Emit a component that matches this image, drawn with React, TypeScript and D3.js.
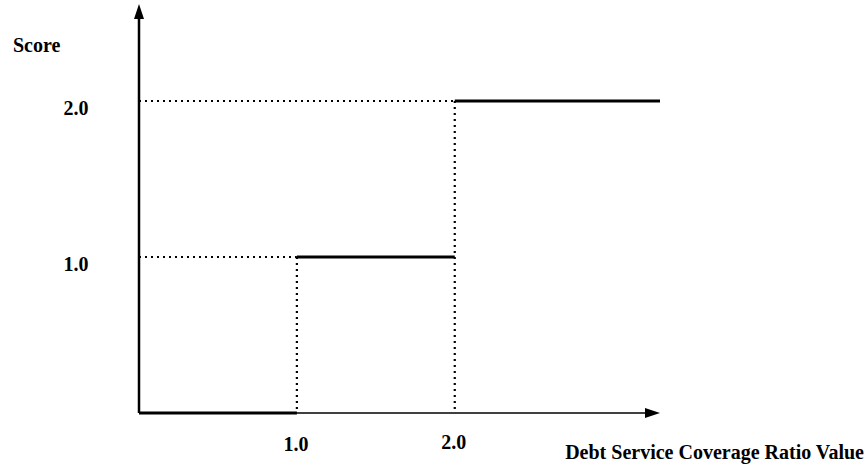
import React from 'react';
import * as d3 from 'd3';

// step function: score by debt service coverage ratio
const breaks = [0, 1.0, 2.0, 3.3];
const scores = [0, 1.0, 2.0];
const xTicks = ['1.0', '2.0'];
const yTicks = ['1.0', '2.0'];
const xTitle = 'Debt Service Coverage Ratio Value';
const yTitle = 'Score';

const width = 866;
const height = 466;
const origin = { x: 139, y: 413 };

const App = () => {
  const x = d3.scaleLinear().domain([0, 3.3]).range([origin.x, 660]);
  const y = d3.scaleLinear().domain([0, 2]).range([origin.y, 101]);
  const font = '"Liberation Serif", "Times New Roman", serif';

  const steps = scores.map((s, i) => ({ x0: breaks[i], x1: breaks[i + 1], s }));

  return (
    <svg width={width} height={height} style={{ position: 'absolute', left: 0, top: 0, background: '#fff' }}>
      {/* axes */}
      <line x1={origin.x} y1={origin.y} x2={origin.x} y2={16} stroke="#000" strokeWidth={2.5} />
      <path d={`M${origin.x},4 L${origin.x - 5},19 L${origin.x + 5},19 Z`} fill="#000" />
      <line x1={origin.x} y1={origin.y} x2={648} y2={origin.y} stroke="#000" strokeWidth={1.5} />
      <path d={`M${x(3.3)},${origin.y} L${x(3.3) - 15},${origin.y - 5} L${x(3.3) - 15},${origin.y + 5} Z`} fill="#000" />

      {/* dotted guides */}
      {scores.slice(1).map((s, i) => (
        <g key={i}>
          <line x1={origin.x} y1={y(s)} x2={x(breaks[i + 1])} y2={y(s)}
            stroke="#000" strokeWidth={2} strokeDasharray="2,4" />
          <line x1={x(breaks[i + 1])} y1={y(s)} x2={x(breaks[i + 1])} y2={origin.y}
            stroke="#000" strokeWidth={2.2} strokeDasharray="2,4" />
        </g>
      ))}

      {/* steps */}
      {steps.map((d, i) => (
        <line key={i} x1={x(d.x0)} y1={y(d.s)} x2={x(d.x1)} y2={y(d.s)}
          stroke="#000" strokeWidth={3.2} />
      ))}

      {/* labels */}
      <g fontFamily={font} fontWeight="bold" fontSize={20} fill="#000">
        <text x={13} y={52}>{yTitle}</text>
        {yTicks.map(t => (
          <text key={t} x={76} y={y(+t) + 14} textAnchor="middle">{t}</text>
        ))}
        {xTicks.map((t, i) => (
          <text key={t} x={x(+t) - 1} y={451 - i * 2} textAnchor="middle">{t}</text>
        ))}
        <text x={864} y={459} textAnchor="end">{xTitle}</text>
      </g>
    </svg>
  );
};

export default App;
